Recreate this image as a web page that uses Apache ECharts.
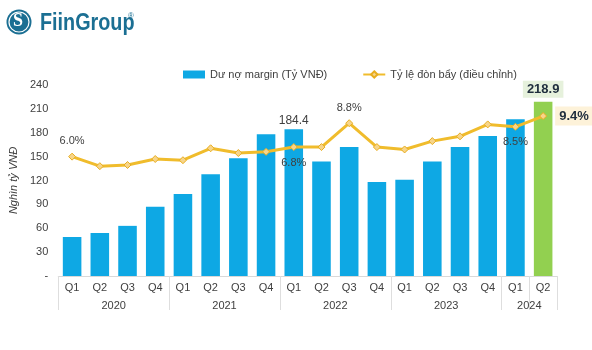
<!DOCTYPE html>
<html>
<head>
<meta charset="utf-8">
<script src="https://cdn.jsdelivr.net/npm/echarts@6/dist/echarts.min.js"></script>
<style>
  html, body { margin: 0; padding: 0; background: #fff; }
  #chart { width: 592px; height: 350px; }
</style>
</head>
<body>
<div id="chart"></div>
<script>
// quarters and years
const quarters = ["Q1", "Q2", "Q3", "Q4", "Q1", "Q2", "Q3", "Q4", "Q1", "Q2", "Q3", "Q4", "Q1", "Q2", "Q3", "Q4", "Q1", "Q2"];
const years = ["2020", "2021", "2022", "2023", "2024"];
const yearStart = [0, 4, 8, 12, 16]; // first quarter index of each year
// Dư nợ margin (nghìn tỷ VNĐ)
const marginDebt = [49, 54, 63, 87, 103, 128, 148, 178, 184.4, 144, 162, 118, 121, 144, 162, 176, 197, 218.9];
// Tỷ lệ đòn bẩy (%)
const leverage = [6.0, 5.2, 5.3, 5.8, 5.7, 6.7, 6.3, 6.4, 6.8, 6.8, 8.8, 6.8, 6.6, 7.3, 7.7, 8.7, 8.5, 9.4];
const yTicks = [0, 30, 60, 90, 120, 150, 180, 210, 240];

const chart = echarts.init(document.getElementById("chart"));
const last = marginDebt.length - 1;
const pct = (p) => p.value.toFixed(1) + "%";

const barData = marginDebt.map((v, i) => {
  if (i === last) {
    return {
      value: v,
      itemStyle: { color: "#92d050" },
      label: {
        show: true, position: "top", distance: 4,
        fontWeight: "bold", fontSize: 13, color: "#1f2d3d",
        backgroundColor: "#e6f1dc", padding: [2, 4]
      }
    };
  }
  if (i === 8) {
    return { value: v, label: { show: true, position: "top", distance: 3, color: "#404040", fontSize: 12 } };
  }
  return v;
});

// which line points carry labels, and where
const lineLabels = { 0: "top", 8: "bottom", 10: "top", 16: "bottom" };
const lineData = leverage.map((v, i) => {
  if (i === last) {
    return {
      value: v,
      label: {
        show: true, position: "right", distance: 8, formatter: pct,
        fontWeight: "bold", fontSize: 13, color: "#1f2d3d",
        backgroundColor: "#fdf2d9", padding: [3, 4]
      }
    };
  }
  if (lineLabels[i]) {
    return { value: v, label: { show: true, position: lineLabels[i], distance: 6, formatter: pct, color: "#404040", fontSize: 11 } };
  }
  return v;
});

chart.setOption({
  animation: false,
  textStyle: { fontFamily: "Liberation Sans, Arial, sans-serif" },
  graphic: [
    { type: "circle", shape: { cx: 19, cy: 22, r: 12.5 }, style: { fill: "#1b6f93" } },
    { type: "circle", shape: { cx: 19, cy: 22, r: 10 }, style: { fill: "none", stroke: "#fff", lineWidth: 1.2 } },
    { type: "text", left: 13, top: 12, style: { text: "S", fill: "#fff", font: "bold 18px Liberation Serif" } },
    { type: "text", x: 40, y: 12, scaleX: 0.86, style: { text: "FiinGroup", fill: "#1b6f93", font: "bold 23px Liberation Sans" } },
    { type: "text", left: 128, top: 12, style: { text: "®", fill: "#1b6f93", font: "8px Liberation Sans" } }
  ],
  legend: {
    top: 64,
    left: 178,
    itemGap: 35,
    itemWidth: 22,
    itemHeight: 8,
    textStyle: { color: "#404040", fontSize: 11 },
    data: [
      { name: "Dư nợ margin (Tỷ VNĐ)", icon: "rect", itemStyle: { color: "#0ea8e4" } },
      { name: "Tỷ lệ đòn bẩy (điều chỉnh)" }
    ]
  },
  grid: { left: 46, right: 35, top: 85, bottom: 74 },
  xAxis: [
    {
      type: "category",
      data: quarters,
      axisLine: { lineStyle: { color: "#d9d9d9" } },
      axisTick: {
        show: true,
        length: 34,
        interval: 3,
        lineStyle: { color: "#dedede" }
      },
      axisLabel: { color: "#404040", fontSize: 11, margin: 6, interval: 0 }
    },
    {
      type: "value",
      position: "bottom",
      offset: 18,
      min: 0,
      max: 18,
      interval: 1,
      axisLine: { show: false },
      axisTick: { show: false },
      splitLine: { show: false },
      axisLabel: {
        color: "#404040", fontSize: 11, margin: 6,
        formatter: (v) => {
          const k = yearStart.findIndex((s, j) => {
            const e = j + 1 < yearStart.length ? yearStart[j + 1] : quarters.length;
            return v === (s + e) / 2;
          });
          return k >= 0 ? years[k] : "";
        }
      }
    }
  ],
  yAxis: [
    {
      type: "value",
      min: yTicks[0],
      max: yTicks[yTicks.length - 1],
      interval: yTicks[1] - yTicks[0],
      name: "Nghìn tỷ VNĐ",
      nameLocation: "middle",
      nameGap: 32,
      nameTextStyle: { color: "#404040", fontSize: 11, fontStyle: "italic" },
      axisLine: { show: false },
      axisTick: { show: false },
      splitLine: { show: false },
      axisLabel: { color: "#404040", fontSize: 11, margin: 10, formatter: (v) => (v === 0 ? "-" : v) }
    },
    {
      type: "value",
      min: -4,
      max: 12,
      show: false,
      splitLine: { show: false }
    }
  ],
  series: [
    {
      name: "Dư nợ margin (Tỷ VNĐ)",
      type: "bar",
      barWidth: "67%",
      itemStyle: { color: "#0ea8e4" },
      data: barData
    },
    {
      name: "Tỷ lệ đòn bẩy (điều chỉnh)",
      type: "line",
      yAxisIndex: 1,
      symbol: "diamond",
      symbolSize: 7,
      lineStyle: { color: "#f0bc2c", width: 3 },
      itemStyle: { color: "#f7d58a", borderColor: "#e8ad1f", borderWidth: 1 },
      data: lineData
    }
  ]
});
</script>
</body>
</html>
